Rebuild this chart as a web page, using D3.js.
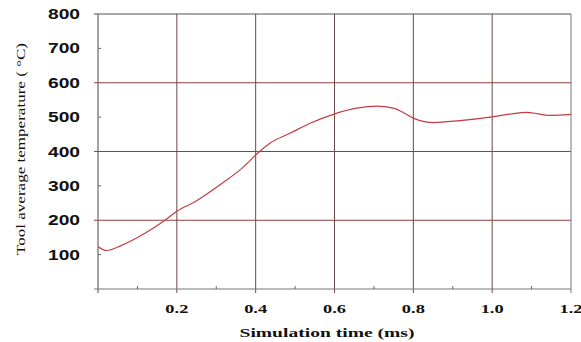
<!DOCTYPE html>
<html lang="en">
<head>
    <meta charset="UTF-8">
    <title>Tool average temperature</title>
    <script src="https://d3js.org/d3.v7.min.js"></script>
    <style>
        body { margin: 0; background: #fff; }
        .ytick { font-family: "Liberation Sans", Arial, sans-serif; font-weight: bold; font-size: 14px; fill: #111; }
        .xtick { font-family: "Liberation Serif", "Times New Roman", serif; font-weight: bold; font-size: 13px; fill: #111; }
        .xlabel { font-family: "Liberation Serif", "Times New Roman", serif; font-weight: bold; font-size: 13px; fill: #111; }
        .ylabel { font-family: "Liberation Serif", "Times New Roman", serif; font-size: 13px; fill: #111; }
    </style>
</head>
<body>
<svg id="chart"></svg>
<script>
    // values
    const timeMs = [0.0, 0.022, 0.06, 0.119, 0.17, 0.2, 0.246, 0.314, 0.365, 0.405, 0.436, 0.487, 0.538,
                    0.597, 0.656, 0.707, 0.749, 0.78, 0.8, 0.817, 0.851, 0.918, 1.0, 1.045, 1.088, 1.147, 1.2];
    const tempC = [123, 112, 127, 162, 200, 226, 254, 307, 351, 395, 424, 453, 482,
                   508, 526, 532, 526, 510, 497, 490, 484, 490, 501, 509, 514, 505, 508];
    const xMajor = [0.2, 0.4, 0.6, 0.8, 1.0, 1.2];
    const xMinor = [0.1, 0.3, 0.5, 0.7, 0.9, 1.1];
    const yMajor = [200, 400, 600, 800];
    const yMinor = [100, 300, 500, 700];
    const yLabels = [100, 200, 300, 400, 500, 600, 700, 800];

    const width = 581, height = 342;
    const margin = { top: 14, right: 10, bottom: 53, left: 98 };

    const svg = d3.select("#chart").attr("width", width).attr("height", height);

    const x = d3.scaleLinear().domain([0, 1.2]).range([margin.left, width - margin.right]);
    const y = d3.scaleLinear().domain([0, 800]).range([height - margin.bottom, margin.top]);

    const g = svg.append("g");

    // horizontal grid lines
    g.selectAll(".hgrid").data(yMajor.filter(d => d < 800)).enter().append("line")
        .attr("x1", x(0) - 4).attr("x2", x(1.2))
        .attr("y1", d => y(d)).attr("y2", d => y(d))
        .attr("stroke", "#8e3f3f").attr("stroke-width", 1);

    // vertical grid lines
    g.selectAll(".vgrid").data(xMajor).enter().append("line")
        .attr("x1", d => x(d)).attr("x2", d => x(d))
        .attr("y1", y(800)).attr("y2", y(0) + 4)
        .attr("stroke", d => d === 1.2 ? "#777" : "#6a4848").attr("stroke-width", 1);

    // top border
    g.append("line")
        .attr("x1", x(0) - 4).attr("x2", x(1.2))
        .attr("y1", y(800)).attr("y2", y(800))
        .attr("stroke", "#555").attr("stroke-width", 1.2);

    // axes lines
    g.append("line")
        .attr("x1", x(0)).attr("x2", x(0)).attr("y1", y(800)).attr("y2", y(0) + 4)
        .attr("stroke", "#666").attr("stroke-width", 1.2);
    g.append("line")
        .attr("x1", x(0) - 4).attr("x2", x(1.2)).attr("y1", y(0)).attr("y2", y(0))
        .attr("stroke", "#777").attr("stroke-width", 1.2);

    // minor ticks
    g.selectAll(".xminor").data(xMinor).enter().append("line")
        .attr("x1", d => x(d)).attr("x2", d => x(d))
        .attr("y1", y(0)).attr("y2", y(0) - 3)
        .attr("stroke", "#666");
    g.selectAll(".yminor").data(yMinor).enter().append("line")
        .attr("x1", x(0)).attr("x2", x(0) + 3)
        .attr("y1", d => y(d)).attr("y2", d => y(d))
        .attr("stroke", "#666");

    // curve
    const line = d3.line()
        .x((d, i) => x(timeMs[i]))
        .y(d => y(d))
        .curve(d3.curveMonotoneX);

    g.append("path")
        .datum(tempC)
        .attr("fill", "none")
        .attr("stroke", "#c63c40")
        .attr("stroke-width", 1.2)
        .attr("d", line);

    // y tick labels
    g.selectAll(".ytick").data(yLabels).enter().append("text")
        .attr("class", "ytick")
        .attr("x", 80)
        .attr("y", d => y(d))
        .attr("dy", "0.36em")
        .attr("text-anchor", "end")
        .attr("textLength", 32)
        .attr("lengthAdjust", "spacingAndGlyphs")
        .text(d => d);

    // x tick labels
    g.selectAll(".xtick").data(xMajor).enter().append("text")
        .attr("class", "xtick")
        .attr("x", d => x(d))
        .attr("y", 313)
        .attr("text-anchor", "middle")
        .attr("textLength", 23)
        .attr("lengthAdjust", "spacingAndGlyphs")
        .text(d => d.toFixed(1));

    // axis titles
    svg.append("text")
        .attr("class", "xlabel")
        .attr("x", 327)
        .attr("y", 337)
        .attr("text-anchor", "middle")
        .attr("textLength", 175)
        .attr("lengthAdjust", "spacingAndGlyphs")
        .text("Simulation time (ms)");

    svg.append("text")
        .attr("class", "ylabel")
        .attr("transform", "translate(25,149) rotate(-90)")
        .attr("text-anchor", "middle")
        .attr("textLength", 212)
        .attr("lengthAdjust", "spacingAndGlyphs")
        .text("Tool average temperature ( °C)");
</script>
</body>
</html>
